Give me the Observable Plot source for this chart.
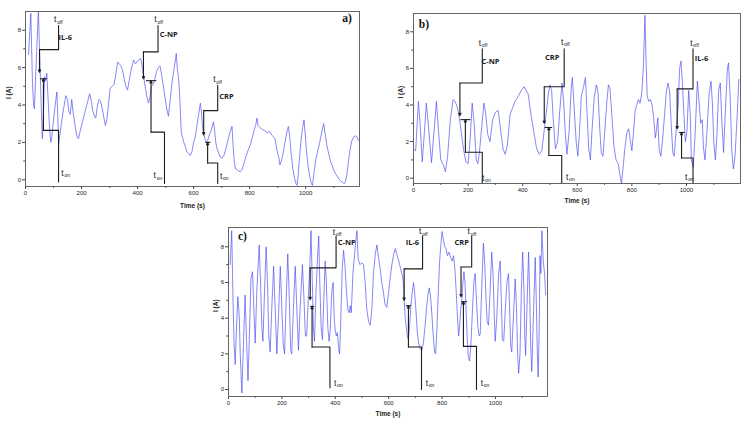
<!DOCTYPE html>
<html><head><meta charset="utf-8">
<script src="https://cdn.jsdelivr.net/npm/d3@7"></script>
<script src="https://cdn.jsdelivr.net/npm/@observablehq/plot@0.6"></script>
<style>
html,body{margin:0;padding:0;background:#fff;}
#root{position:relative;width:747px;height:424px;overflow:hidden;background:#fff;}
.panel{position:absolute;}
</style></head><body><div id="root"></div>
<script>
// ---------------- data ----------------
const xMajorTicks = [0, 200, 400, 600, 800, 1000];
const xMinorTicks = [100, 300, 500, 700, 900, 1100];
const yMajorTicks = [0, 2, 4, 6, 8];
const yMinorTicks = [1, 3, 5, 7];

const timeA = [11,15,19,22,25,29,32,36,40,43,46,49,52,56,60,64,68,72,76,80,85,90,94,100,106,112,115,118,122,128,136,144,150,155,160,165,170,178,184,189,195,205,215,222,229,235,240,246,251,256,262,268,274,280,285,290,296,302,310,316,322,329,335,340,346,352,358,364,370,376,382,386,392,398,404,410,414,418,422,428,434,439,444,450,456,462,468,474,480,486,492,498,504,510,516,522,528,534,538,542,546,550,553,556,560,565,570,576,582,588,594,600,606,612,618,624,628,632,636,640,645,650,656,662,667,671,675,679,683,690,696,701,708,716,724,731,737,741,745,749,755,761,767,773,780,788,795,803,810,817,822,826,830,836,845,855,864,870,878,885,890,895,900,904,908,913,918,925,932,938,943,948,954,960,965,969,973,978,984,989,994,998,1003,1008,1014,1020,1024,1029,1035,1042,1050,1058,1064,1070,1076,1082,1088,1094,1100,1108,1116,1124,1132,1138,1142,1147,1152,1158,1165,1172,1178,1183,1188];
const currentA = [6.7,7.8,8.9,7.0,5.1,4.0,3.8,5.5,6.9,8.0,9.0,7.5,6.0,4.0,2.2,3.5,5.5,5.3,5.7,4.5,3.0,2.0,2.3,3.2,4.0,4.7,3.5,1.9,2.3,3.0,3.8,4.5,4.3,3.6,3.5,4.3,3.6,2.8,2.3,2.2,2.6,3.2,3.8,4.2,4.6,4.2,3.7,3.4,3.3,3.9,4.3,4.2,3.8,3.3,2.9,3.2,4.0,4.9,5.0,5.1,5.6,6.3,6.2,6.1,5.9,5.4,5.0,4.8,5.3,5.8,6.2,6.4,6.2,6.3,6.4,6.5,6.3,5.9,5.5,4.9,4.4,4.1,4.4,5.0,5.1,5.4,5.8,6.0,6.1,5.6,5.0,4.4,3.8,3.4,4.2,5.1,5.7,6.3,6.75,5.9,5.5,4.6,3.6,2.5,2.3,2.0,1.8,1.5,1.4,1.3,1.5,2.0,2.3,2.9,3.5,4.1,3.6,2.8,2.4,2.2,2.0,2.1,2.4,2.6,2.9,3.1,2.6,2.0,1.7,1.4,1.2,1.15,1.3,1.7,2.2,2.6,2.85,1.8,1.0,0.6,0.55,0.45,0.43,0.55,0.9,1.3,1.6,1.9,2.3,2.7,2.95,3.3,2.9,2.8,2.7,2.6,2.5,2.6,2.4,2.3,2.2,1.8,1.4,1.2,0.8,1.0,1.3,1.9,2.5,2.85,2.3,1.4,0.6,0.1,-0.2,-0.3,0.2,1.2,2.2,2.8,3.2,2.5,1.5,0.8,0.2,-0.2,-0.3,0.3,1.0,1.5,2.0,2.6,3.0,2.4,1.8,1.4,1.0,0.8,0.5,0.3,0.1,-0.05,-0.15,-0.2,-0.1,0.3,0.9,1.6,2.1,2.3,2.35,2.3,2.1];

const timeB = [0,8,18,24,32,40,47,55,66,75,84,92,100,110,117,125,135,145,152,160,168,176,184,192,200,207,215,222,230,236,242,250,258,264,272,280,290,300,310,318,328,336,344,354,362,372,385,395,405,412,420,430,440,450,460,470,478,485,494,500,506,512,520,528,536,544,550,556,562,570,578,582,588,596,602,608,615,623,630,636,642,648,654,662,670,676,682,688,694,700,708,714,720,726,734,742,750,756,762,768,774,782,788,794,800,806,812,818,824,830,836,842,848,852,856,862,868,874,880,886,890,895,900,906,912,920,926,932,938,944,950,955,962,970,975,980,985,990,996,1002,1008,1014,1018,1025,1032,1040,1046,1052,1058,1062,1068,1075,1083,1090,1095,1100,1106,1112,1118,1124,1130,1136,1142,1150,1154,1160,1166,1172,1178,1186,1192];
const currentB = [1.6,1.5,4.2,3.0,0.9,2.5,4.1,2.8,0.85,2.5,4.2,2.5,1.0,0.7,0.35,1.2,3.2,4.3,4.2,3.9,3.3,2.4,1.5,0.9,0.8,2.0,4.1,3.0,1.0,0.8,1.5,2.8,4.1,3.6,2.4,2.0,3.2,3.6,3.7,2.8,1.6,1.3,1.8,3.5,3.8,4.2,4.5,4.8,5.0,4.8,4.6,3.5,2.6,1.7,1.3,1.5,2.5,3.4,4.6,5.1,4.8,3.2,1.6,2.0,3.7,5.2,4.2,2.5,1.3,2.5,5.0,5.5,4.0,2.0,1.2,2.5,4.5,5.0,5.5,3.5,1.6,1.0,2.6,4.4,5.1,4.7,2.8,1.4,1.2,2.4,4.1,5.1,4.9,3.6,1.8,1.0,0.8,0.2,-0.3,0.6,1.6,2.5,2.7,2.1,1.5,2.5,3.7,4.0,4.3,4.1,4.6,6.0,8.9,6.5,4.5,4.2,4.3,4.0,3.3,2.2,2.6,3.3,1.6,1.2,2.0,3.5,4.7,5.2,4.8,3.0,1.4,1.2,2.6,4.0,6.0,6.4,5.2,3.7,2.0,2.6,4.8,3.5,1.0,0.6,2.5,5.3,4.2,3.0,3.2,1.7,1.0,2.5,4.6,5.3,4.1,2.0,1.0,2.5,4.8,5.2,3.0,1.4,3.5,6.0,6.3,4.5,1.5,0.5,1.2,3.5,5.4];

const timeC = [6,12,17,21,25,30,35,40,44,50,56,62,67,73,78,84,90,95,100,106,115,120,125,129,135,141,146,151,156,162,169,175,181,187,194,200,205,210,216,222,228,233,237,243,250,256,262,268,277,283,288,293,300,305,309,314,318,322,328,333,338,342,347,352,358,362,366,372,377,381,387,392,396,400,404,408,412,416,420,426,431,436,442,447,452,456,460,466,472,478,481,486,492,500,506,512,518,525,531,537,543,550,556,562,568,574,580,586,593,600,606,612,619,625,630,636,641,646,651,655,658,662,666,670,674,678,683,688,693,697,702,707,712,718,724,730,736,742,748,752,757,762,767,772,776,781,786,791,796,800,805,810,815,820,826,832,838,843,848,853,858,862,866,870,874,878,882,886,890,894,898,903,908,914,919,924,929,934,939,943,948,955,960,965,969,974,980,986,991,995,999,1005,1012,1018,1022,1026,1031,1037,1043,1049,1053,1057,1061,1067,1074,1079,1083,1087,1092,1097,1102,1107,1110,1113,1118,1124,1128,1132,1136,1142,1149,1153,1157,1160,1164,1167,1170,1174,1179,1184,1188];
const currentC = [7.0,8.9,5.0,2.5,1.4,3.5,5.2,4.2,2.0,-0.2,2.5,5.3,3.0,0.5,2.8,6.2,6.6,4.5,2.6,5.5,8.1,6.0,3.5,2.7,5.5,8.0,6.0,3.0,2.1,4.5,6.9,4.5,2.0,4.0,6.9,4.5,2.5,2.0,5.0,7.6,5.0,2.2,2.0,4.5,6.9,4.5,2.2,4.5,7.0,5.0,3.0,3.0,5.5,7.0,8.9,6.0,3.5,2.7,5.5,7.2,8.6,6.0,3.5,2.8,5.5,7.2,6.2,3.5,2.7,3.3,5.5,6.0,4.0,3.3,3.0,3.2,2.4,2.0,3.5,6.8,7.8,7.0,5.5,4.5,4.3,4.7,4.3,6.5,7.5,8.5,8.9,7.3,7.0,7.1,7.0,6.0,4.5,3.8,3.6,4.5,6.5,7.6,8.1,7.4,6.8,6.0,5.5,4.8,4.6,5.5,6.3,7.0,7.6,7.9,7.6,7.3,7.0,6.7,6.4,6.0,5.0,4.0,3.5,3.0,2.8,3.5,4.6,5.4,6.0,5.5,4.5,3.3,2.6,2.3,2.2,2.6,3.5,4.6,5.4,5.7,5.2,4.2,3.0,2.1,2.0,3.5,5.5,7.2,8.2,8.85,8.4,8.0,7.9,7.5,7.7,7.4,7.2,7.5,6.8,5.5,4.0,3.0,3.6,4.5,5.0,6.0,6.6,6.0,4.5,3.0,1.9,1.6,2.5,4.5,6.0,6.5,5.0,3.5,3.0,3.1,5.5,8.2,7.0,5.0,3.8,3.6,5.5,7.7,6.5,4.5,2.7,4.0,6.5,7.2,5.0,2.8,2.7,4.5,6.0,6.5,4.5,2.5,2.1,4.0,6.2,4.5,2.0,0.9,2.0,5.5,7.7,5.5,3.0,1.9,4.5,7.7,5.5,2.5,1.0,4.0,7.4,5.0,2.0,0.7,3.5,7.5,6.5,8.9,7.2,6.5,5.3];

// injection annotations (data units: time in s, current in A)
const annotationsA = [
  {label:"IL-6", tRight:118, yTop:8.25, yHigh:6.96, tLeft:50, yDown:5.75, barFrom:52, barTo:76, yBar:5.4, tUp:64, yLow:2.64, tOnLine:118, yBottom:-0.12, offT:106, offY:8.57, onT:132, onY:0.35, labelT:142, labelY:7.59},
  {label:"C-NP", tRight:473, yTop:8.25, yHigh:6.84, tLeft:421, yDown:5.4, barFrom:430, barTo:467, yBar:5.3, tUp:448, yLow:2.55, tOnLine:496, yBottom:-0.2, offT:464, offY:8.57, onT:461, onY:0.23, labelT:511, labelY:7.77},
  {label:"CRP", tRight:686, yTop:5.05, yHigh:3.7, tLeft:636, yDown:2.4, barFrom:642, barTo:660, yBar:2.0, tUp:650, yLow:0.9, tOnLine:686, yBottom:-0.2, offT:674, offY:5.36, onT:698, onY:0.19, labelT:717, labelY:4.47}
];
const annotationsB = [
  {label:"C-NP", tRight:252, yTop:7.07, yHigh:5.2, tLeft:170, yDown:3.42, barFrom:172, barTo:209, yBar:3.2, tUp:190, yLow:1.42, tOnLine:252, yBottom:-0.27, offT:243, offY:7.4, onT:255, onY:0.02, labelT:282, labelY:6.38},
  {label:"CRP", tRight:552, yTop:7.07, yHigh:5.0, tLeft:479, yDown:3.0, barFrom:481, barTo:508, yBar:2.77, tUp:496, yLow:1.24, tOnLine:543, yBottom:-0.27, offT:545, offY:7.45, onT:563, onY:0.05, labelT:508, labelY:6.58},
  {label:"IL-6", tRight:1024, yTop:7.07, yHigh:4.88, tLeft:966, yDown:2.7, barFrom:973, barTo:993, yBar:2.5, tUp:982, yLow:1.1, tOnLine:1024, yBottom:-0.27, offT:1018, offY:7.38, onT:999, onY:0.05, labelT:1055, labelY:6.56}
];
const annotationsC = [
  {label:"C-NP", tRight:403, yTop:8.6, yHigh:6.82, tLeft:306, yDown:5.04, barFrom:306, barTo:321, yBar:4.66, tUp:313, yLow:2.38, tOnLine:380, yBottom:0.1, offT:395, offY:8.84, onT:400, onY:0.36, labelT:443, labelY:8.22},
  {label:"IL-6", tRight:727, yTop:8.6, yHigh:6.76, tLeft:658, yDown:5.0, barFrom:664, barTo:684, yBar:4.7, tUp:674, yLow:2.38, tOnLine:723, yBottom:0.0, offT:718, offY:8.86, onT:743, onY:0.36, labelT:689, labelY:8.22},
  {label:"CRP", tRight:911, yTop:8.6, yHigh:6.87, tLeft:871, yDown:5.2, barFrom:871, barTo:893, yBar:4.92, tUp:880, yLow:2.42, tOnLine:929, yBottom:0.0, offT:900, offY:8.86, onT:949, onY:0.36, labelT:874, labelY:8.22}
];
const panelLetters = [{s:"a)", t:1148, v:8.63}, {s:"b)", t:38, v:8.4}, {s:"c)", t:52, v:8.56}];

// ---------------- drawing ----------------
const SANS = "'Liberation Sans', Arial, sans-serif";
const INK = "#1c1c1c";

function makePanel(cfg) {
  const data = cfg.t.map((t, i) => ({t, v: cfg.v[i]}));
  const ann = cfg.ann;
  const upper = ann.flatMap((a, k) => [{t:a.tRight, v:a.yTop, k}, {t:a.tRight, v:a.yHigh, k}, {t:a.tLeft, v:a.yHigh, k}]);
  const lower = ann.flatMap((a, k) => [{t:a.tUp, v:a.yLow, k}, {t:a.tOnLine, v:a.yLow, k}, {t:a.tOnLine, v:a.yBottom, k}]);
  const svg = Plot.plot({
    width: cfg.width, height: cfg.height,
    marginLeft: cfg.m[0], marginTop: cfg.m[1], marginRight: cfg.m[2], marginBottom: cfg.m[3],
    x: {domain: cfg.xDomain},
    y: {domain: cfg.yDomain},
    style: {fontFamily: SANS, background: "transparent", color: "#222", overflow: "visible"},
    marks: [
      Plot.axisX({ticks: xMajorTicks, tickFormat: d3.format("d"), tickSize: 3, tickPadding: 1.5, fontSize: 6, label: null, stroke: "#444"}),
      Plot.axisX({ticks: xMinorTicks, tickSize: 1.8, text: null, label: null, stroke: "#444"}),
      Plot.axisY({ticks: yMajorTicks, tickFormat: d3.format("d"), tickSize: 3, tickPadding: 1.5, fontSize: 6, label: null, stroke: "#444"}),
      Plot.axisY({ticks: yMinorTicks, tickSize: 1.8, text: null, label: null, stroke: "#444"}),
      Plot.line(data, {x: "t", y: "v", stroke: "#4d4df2", strokeWidth: 0.75, strokeOpacity: 0.9}),
      Plot.line(upper, {x: "t", y: "v", z: "k", stroke: INK, strokeWidth: 1.1}),
      Plot.arrow(ann, {x1: "tLeft", y1: "yHigh", x2: "tLeft", y2: "yDown", stroke: INK, strokeWidth: 1.1, headLength: 3.5, headAngle: 50}),
      Plot.link(ann, {x1: "barFrom", x2: "barTo", y1: "yBar", y2: "yBar", stroke: INK, strokeWidth: 1.1}),
      Plot.arrow(ann, {x1: "tUp", y1: "yLow", x2: "tUp", y2: "yBar", stroke: INK, strokeWidth: 1.1, headLength: 3.5, headAngle: 50}),
      Plot.line(lower, {x: "t", y: "v", z: "k", stroke: INK, strokeWidth: 1.1}),
      Plot.text(ann, {x: "offT", y: "offY", text: () => "t", fontSize: 8.5, fill: INK}),
      Plot.text(ann, {x: "offT", y: "offY", text: () => "off", dx: 2, dy: 2.5, textAnchor: "start", fontSize: 5, fill: INK}),
      Plot.text(ann, {x: "onT", y: "onY", text: () => "t", fontSize: 8.5, fill: INK}),
      Plot.text(ann, {x: "onT", y: "onY", text: () => "on", dx: 2, dy: 2.5, textAnchor: "start", fontSize: 5, fill: INK}),
      Plot.text(ann, {x: "labelT", y: "labelY", text: "label", fontSize: 7.5, fontWeight: "bold", fontFamily: "'Open Sans', sans-serif", fill: INK}),
      Plot.text([cfg.letter], {x: "t", y: "v", text: "s", fontSize: 11.5, fontWeight: "bold", fontFamily: "'Liberation Serif', 'DejaVu Serif', serif", fill: "#111"}),
      Plot.text(["Time (s)"], {frameAnchor: "bottom", dy: cfg.xLabelDy, fontSize: 6.5, fontWeight: "bold", fill: "#222"}),
      Plot.text(["I (A)"], {frameAnchor: "left", dx: cfg.yLabelDx, rotate: -90, fontSize: 6.5, fontWeight: "bold", fill: "#222"}),
      Plot.frame({stroke: "#555", strokeWidth: 0.9})
    ]
  });
  const div = document.createElement("div");
  div.className = "panel";
  div.style.left = cfg.left + "px";
  div.style.top = cfg.top + "px";
  div.style.width = cfg.width + "px";
  div.style.height = cfg.height + "px";
  div.appendChild(svg);
  document.getElementById("root").appendChild(div);
}

makePanel({t: timeA, v: currentA, ann: annotationsA, letter: panelLetters[0],
  left: 0, top: 0, width: 372, height: 215, m: [25, 11, 13, 29],
  xDomain: [0, 1192], yDomain: [-0.36, 9.0], xLabelDy: 21, yLabelDx: -17});
makePanel({t: timeB, v: currentB, ann: annotationsB, letter: panelLetters[1],
  left: 380, top: 0, width: 367, height: 215, m: [33, 13, 7, 32],
  xDomain: [0, 1198], yDomain: [-0.29, 9.0], xLabelDy: 19, yLabelDx: -13});
makePanel({t: timeC, v: currentC, ann: annotationsC, letter: panelLetters[2],
  left: 200, top: 200, width: 360, height: 224, m: [28, 27, 13, 28],
  xDomain: [0, 1195], yDomain: [-0.39, 9.08], xLabelDy: 19, yLabelDx: -13});
</script>
</body></html>
